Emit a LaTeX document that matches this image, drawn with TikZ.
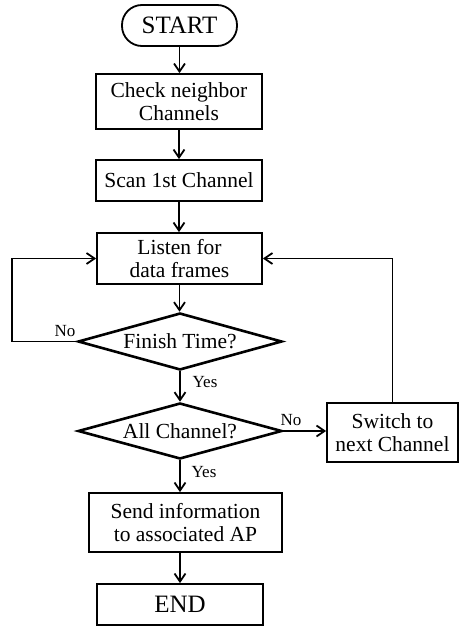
\documentclass[tikz,border=0pt]{standalone}
\usepackage{fontspec}
\setmainfont{Liberation Serif}
\usetikzlibrary{shapes.geometric,arrows.meta}
\begin{document}
\begin{tikzpicture}[x=1pt,y=-1pt,
  line width=1.8pt,
  every node/.style={font=\fontsize{21.5}{23.5}\selectfont, align=center, inner sep=0pt},
  procbox/.style={draw, rectangle},
  termbox/.style={draw, rectangle, rounded corners=20pt},
  bigtext/.style={font=\fontsize{25}{27}\selectfont},
  decision/.style={draw, diamond, shape aspect=3.6, line width=2.6pt},
  lbl/.style={font=\fontsize{17}{19}\selectfont},
  arr/.style={-{Straight Barb[length=8pt,width=11pt]}}
]
\useasboundingbox (0,0) rectangle (459,626);

% process steps
\node[termbox, bigtext, minimum width=115pt, minimum height=41pt] (start) at (179.5,25.5) {START};
\node[procbox, minimum width=166pt, minimum height=55pt] (check) at (179,101.5) {Check neighbor\\Channels};
\node[procbox, minimum width=166pt, minimum height=41pt] (scan) at (179,180.5) {Scan 1st Channel};
\node[procbox, minimum width=165pt, minimum height=51pt] (listen) at (179.5,258.5) {Listen for\\data frames};
\node[decision, minimum width=204pt, minimum height=57pt] (finish) at (180,341.5) {Finish Time?};
\node[decision, minimum width=204pt, minimum height=56pt] (allch) at (180,431) {All Channel?};
\node[procbox, minimum width=131pt, minimum height=59pt] (switch) at (392.5,432.5) {Switch to\\next Channel};
\node[procbox, minimum width=193pt, minimum height=59pt] (send) at (185.5,522.5) {Send information\\to associated AP};
\node[procbox, bigtext, minimum width=166pt, minimum height=41pt] (endn) at (180,604.5) {END};

\coordinate (lp) at (12,341.5);

% main flow
\draw[arr] (start.south) -- (start.south |- check.north);
\draw[arr] (check.south) -- (check.south |- scan.north);
\draw[arr] (scan.south) -- (scan.south |- listen.north);
\draw[arr] (listen.south) -- (listen.south |- finish.north);
\draw[arr] (finish.south) -- (allch.north);
\draw[arr] (allch.south) -- (allch.south |- send.north);
\draw[arr] (send.south -| endn.north) -- (endn.north);

% loops
\draw[arr] (finish.west) -- (lp) |- (listen.west);
\draw[arr] (allch.east) -- (allch.east -| switch.west);
\draw[arr] (switch.north) |- (listen.east);

% branch labels
\node[lbl] (no1) at (65,331) {No};
\node[lbl] (yes1) at (205,382) {Yes};
\node[lbl] (no2) at (291,420) {No};
\node[lbl] (yes2) at (204,472) {Yes};
\end{tikzpicture}
\end{document}
